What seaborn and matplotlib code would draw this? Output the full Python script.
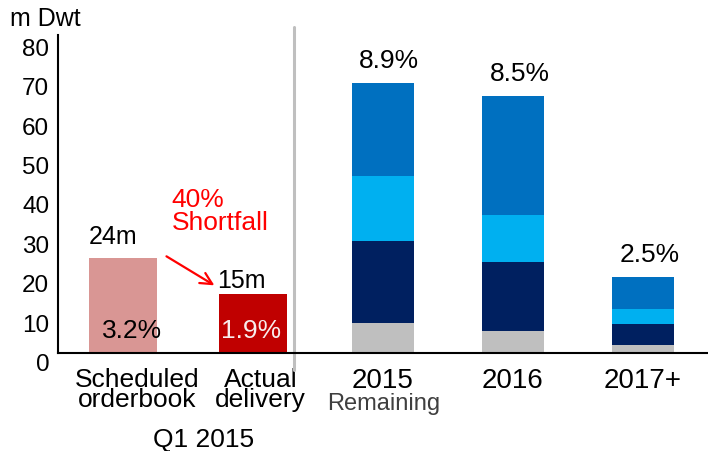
import numpy as np
import pandas as pd
import matplotlib
matplotlib.use("Agg")
import matplotlib.pyplot as plt
import matplotlib.transforms as mtransforms
import seaborn as sns

# ---------------- data ----------------
categories = ["Scheduled orderbook", "Actual delivery", "2015", "2016", "2017+"]
tick_labels = ["Scheduled\norderbook", "Actual\ndelivery", "2015", "2016", "2017+"]
q1_values = [24, 15]                      # m Dwt
q1_value_labels = ["24m", "15m"]
q1_share_labels = ["3.2%", "1.9%"]
years = ["2015", "2016", "2017+"]
seg_grey = [7.7, 5.7, 2.0]
seg_navy = [20.7, 17.3, 5.3]
seg_light = [16.6, 12.1, 3.9]
seg_blue = [23.4, 30.0, 8.0]
year_share_labels = ["8.9%", "8.5%", "2.5%"]
y_ticks = [0, 10, 20, 30, 40, 50, 60, 70, 80]

# ---------------- style ----------------
sns.set_theme(style="white")
plt.rcParams["font.family"] = ["Liberation Sans", "DejaVu Sans"]

W, H = 708, 451
fig = plt.figure(figsize=(W / 100, H / 100), dpi=100)
ax_left, ax_bottom, ax_top = 57.7, 353, 35
ax = fig.add_axes([ax_left / W, (H - ax_bottom) / H, 1 - ax_left / W, (ax_bottom - ax_top) / H])

# Q1 2015 bars
q1_df = pd.DataFrame({"cat": categories[:2], "val": q1_values})
sns.barplot(data=q1_df, x="cat", y="val", order=categories, hue="cat",
            palette={categories[0]: "#D99694", categories[1]: "#C00000"},
            saturation=1, width=0.52, linewidth=0, errorbar=None, legend=False, ax=ax)

# stacked yearly bars (drawn as cumulative overlays)
g = np.array(seg_grey); n = np.array(seg_navy); l = np.array(seg_light); b = np.array(seg_blue)
cums = [g + n + l + b, g + n + l, g + n, g]
cols = ["#0070C0", "#00B0F0", "#002060", "#BFBFBF"]
totals = g + n + l + b
for cum, col in zip(cums, cols):
    df = pd.DataFrame({"cat": years, "val": cum})
    sns.barplot(data=df, x="cat", y="val", order=categories, color=col,
                saturation=1, width=0.48, linewidth=0, errorbar=None, ax=ax)

ax.set_xlim(-0.5, 4.5)
ax.set_ylim(0, 80.7)
ax.set_yticks(y_ticks)
ax.set_xticks(range(len(categories)))
ax.set_xticklabels(tick_labels)
ax.set_xlabel("")
ax.set_ylabel("")
for s in ["top", "right"]:
    ax.spines[s].set_visible(False)
for s in ["left", "bottom"]:
    ax.spines[s].set_color("black")
    ax.spines[s].set_linewidth(1.5)
ax.tick_params(axis="y", length=0, pad=6, labelsize=17.5, labelcolor="black")
ax.tick_params(axis="x", length=0, pad=11, labelsize=20, labelcolor="black")

# y tick labels sit a little below their gridline positions in the original
off = mtransforms.ScaledTranslation(0, -9.5 / 100, fig.dpi_scale_trans)
for lab in ax.get_yticklabels():
    lab.set_transform(lab.get_transform() + off)
x_shifts = [14, 8]
for lab, dx in zip(ax.get_xticklabels()[:2], x_shifts):
    lab.set_fontsize(19)
    lab.set_linespacing(0.8)
    lab.set_transform(lab.get_transform() + mtransforms.ScaledTranslation(dx / 100, 0, fig.dpi_scale_trans))

# annotations
ax.text(-0.075, 27.7, q1_value_labels[0], fontsize=18, ha="center", va="baseline", color="black")
ax.text(0.915, 16.4, q1_value_labels[1], fontsize=18, ha="center", va="baseline", color="black")
ax.text(0.069, 3.7, q1_share_labels[0], fontsize=19, ha="center", va="baseline", color="black")
ax.text(0.985, 3.7, q1_share_labels[1], fontsize=19, ha="center", va="baseline", color="#F8ECEC")
for i, (lab, tot) in enumerate(zip(year_share_labels, totals)):
    ax.text(2 + i + 0.05, tot + 4.0, lab, fontsize=19, ha="center", va="baseline", color="black")

ax.text(0.377, 37.1, "40%", fontsize=19, ha="left", va="baseline", color="#FF0000")
ax.text(0.377, 31.2, "Shortfall", fontsize=19, ha="left", va="baseline", color="#FF0000")
ax.annotate("", xy=(0.723, 16.8), xytext=(0.318, 24.9),
            arrowprops=dict(arrowstyle="->,head_length=0.7,head_width=0.35", color="#FF0000", lw=1.6))

bt = mtransforms.blended_transform_factory(ax.transData, ax.transAxes)
ax.text(2.003, -0.179, "Remaining", transform=bt, fontsize=17, ha="center", va="baseline", color="#3F3F3F")
ax.text(0.618, -0.2965, "Q1 2015", transform=bt, fontsize=19, ha="center", va="baseline", color="black")
ax.plot([1.318, 1.318], [-0.053, 1.025], transform=bt, color="#BFBFBF", lw=2.2, clip_on=False)

fig.text(10 / W, 1 - 25.5 / H, "m Dwt", fontsize=18, ha="left", va="baseline", color="black")

fig.savefig("out.png", dpi=100)
